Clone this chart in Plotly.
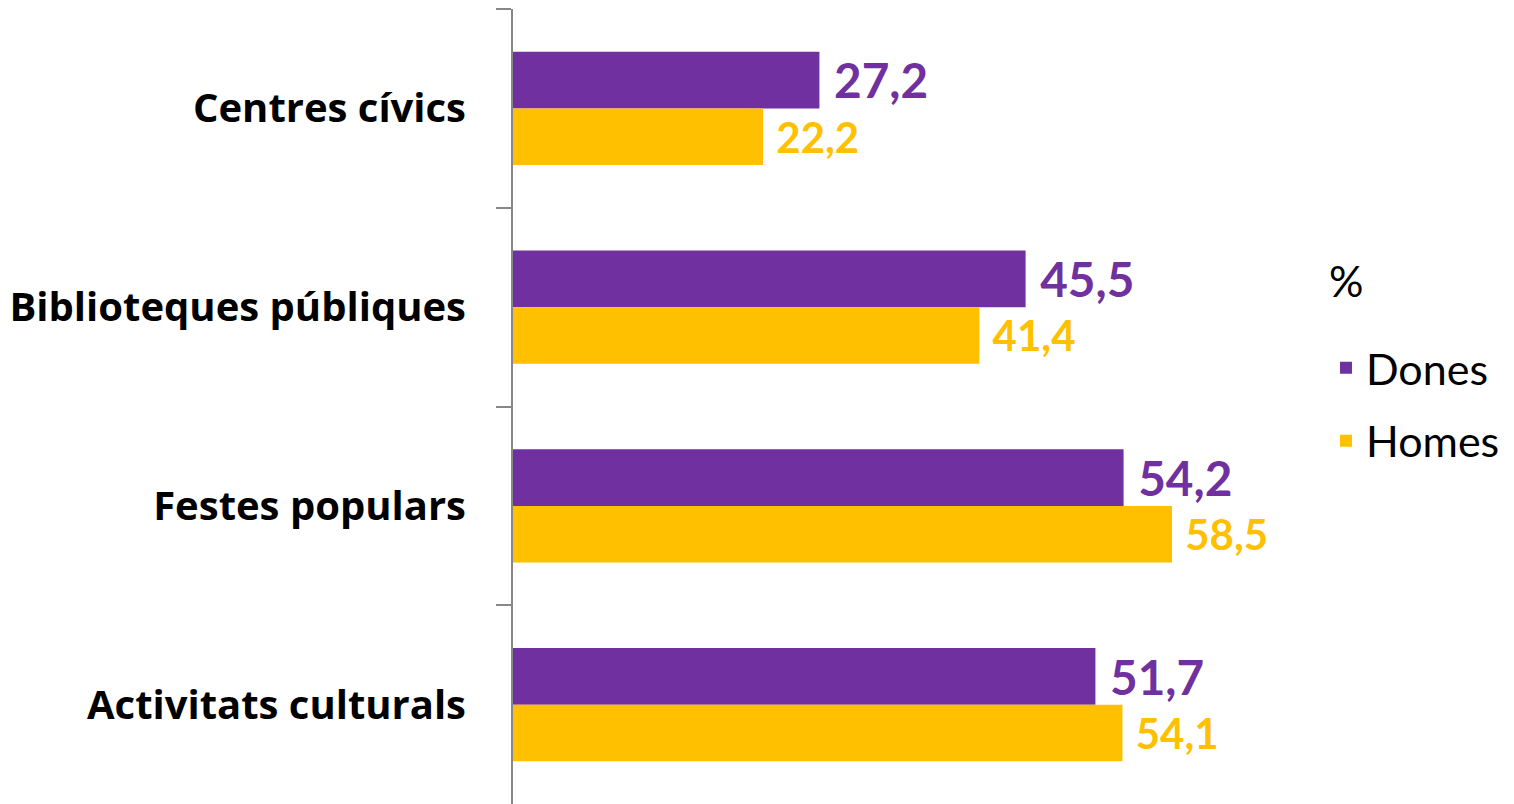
import plotly.graph_objects as go

categories = ["Centres cívics", "Biblioteques públiques", "Festes populars", "Activitats culturals"]
dones = [27.2, 45.5, 54.2, 51.7]
homes = [22.2, 41.4, 58.5, 54.1]

purple = "#7030A0"
yellow = "#FFC000"
font = "Lato"


def main():
    fig = go.Figure()
    fig.add_trace(go.Bar(
        y=categories, x=dones, orientation="h", name="Dones", legendgroup="d",
        marker=dict(color=purple, line=dict(width=0)),
        texttemplate=" %{x:.1f}", textposition="outside", cliponaxis=False,
        textfont=dict(family=font, size=48, color=purple, weight="bold"),
    ))
    fig.add_trace(go.Bar(
        y=categories, x=homes, orientation="h", name="Homes", legendgroup="h",
        marker=dict(color=yellow, line=dict(width=0)),
        texttemplate=" %{x:.1f}", textposition="outside", cliponaxis=False,
        textfont=dict(family=font, size=42, color=yellow, weight="bold"),
    ))
    fig.update_layout(
        width=1506, height=796,
        margin=dict(l=505, r=214, t=1, b=0),
        paper_bgcolor="white", plot_bgcolor="white",
        barmode="group", bargap=0.43, bargroupgap=0,
        separators=",.",
        font=dict(family=font, color="black"),
        showlegend=True,
        legend=dict(
            font=dict(size=43, family=font),
            x=1.033, xanchor="left", y=0.592, yanchor="top",
            tracegroupgap=14,
        ),
        annotations=[dict(
            text="%", xref="paper", yref="paper", x=1.034, y=0.658,
            xanchor="left", yanchor="middle", showarrow=False,
            font=dict(size=43, family=font, color="black"),
        )],
    )
    fig.update_xaxes(range=[0, 69.86], visible=False, showgrid=False, zeroline=False)
    fig.update_yaxes(
        autorange="reversed", showline=True, linecolor="#878787", linewidth=2,
        ticks="outside", tickson="boundaries", ticklen=15, tickcolor="#878787", tickwidth=2,
        tickfont=dict(family="Open Sans", size=40, color="black", weight="bold"),
        ticklabelstandoff=37, showgrid=False, automargin=False,
    )
    fig.write_html("out.html")


if __name__ == "__main__":
    main()
